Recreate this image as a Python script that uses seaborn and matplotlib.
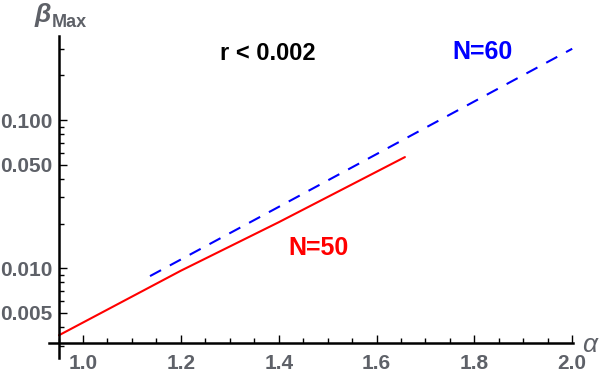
import numpy as np
import pandas as pd
import matplotlib
matplotlib.use("Agg")
import matplotlib.pyplot as plt
import matplotlib.ticker as mticker
import seaborn as sns

# ---- data ----
alpha_n50 = [0.951, 1.2, 1.4, 1.658]
beta_n50 = [0.00352, 0.0096, 0.0204, 0.0562]

alpha_n60 = [1.137, 1.4, 1.7, 2.0]
beta_n60 = [0.00883, 0.0259, 0.0887, 0.303]

x_major = [1.0, 1.2, 1.4, 1.6, 1.8, 2.0]
x_labels = ["1.0", "1.2", "1.4", "1.6", "1.8", "2.0"]
y_major = [0.005, 0.01, 0.05, 0.1]
y_labels = ["0.005", "0.010", "0.050", "0.100"]

sns.set_style("white")
plt.rcParams["font.family"] = ["Liberation Sans", "DejaVu Sans"]

GRAY = "#5e6168"
RED = "#ff0000"
BLUE = "#0000ff"

fig = plt.figure(figsize=(6, 3.75), dpi=100)
ax = fig.add_axes([49 / 600, 1 - 358 / 375, (572 - 49) / 600 + 0.002, (358 - 36) / 375])

df50 = pd.DataFrame({"alpha": alpha_n50, "beta": beta_n50})
df60 = pd.DataFrame({"alpha": alpha_n60, "beta": beta_n60})

sns.lineplot(data=df50, x="alpha", y="beta", color=RED, linewidth=1.5, ax=ax)
sns.lineplot(data=df60, x="alpha", y="beta", color=BLUE, linewidth=1.5,
             linestyle=(0, (6, 4.8)), ax=ax)

ax.set_yscale("log")
ax.set_xlim(0.9305, 2.002)
ax.set_ylim(0.00247, 0.3695)

# axes crossing like Mathematica
for s in ["top", "right"]:
    ax.spines[s].set_visible(False)
ax.spines["left"].set_position(("data", 0.951))
ax.spines["bottom"].set_position(("data", 0.00311))
for s in ["left", "bottom"]:
    ax.spines[s].set_linewidth(1.8)
    ax.spines[s].set_color("black")

ax.xaxis.set_major_locator(mticker.FixedLocator(x_major))
ax.xaxis.set_major_formatter(mticker.FixedFormatter(x_labels))
ax.xaxis.set_minor_locator(mticker.MultipleLocator(0.05))
ax.yaxis.set_major_locator(mticker.FixedLocator(y_major))
ax.yaxis.set_major_formatter(mticker.FixedFormatter(y_labels))
ax.yaxis.set_minor_locator(mticker.LogLocator(base=10, subs=np.arange(2, 10)))
ax.yaxis.set_minor_formatter(mticker.NullFormatter())

ax.tick_params(which="both", direction="in", color="black", width=1.0,
               bottom=True, left=True)
ax.tick_params(which="major", length=6)
ax.tick_params(which="minor", length=3.5)
ax.tick_params(axis="x", which="major", pad=7.5, labelsize=15, labelcolor=GRAY)
ax.tick_params(axis="y", which="major", pad=5, labelsize=15, labelcolor=GRAY)
for lab in ax.get_xticklabels() + ax.get_yticklabels():
    lab.set_fontweight("bold")

ax.set_xlabel("")
ax.set_ylabel("")

# annotations
fig.text(268 / 600, 1 - 53 / 375, "r < 0.002", color="black", fontsize=17,
         fontweight="bold", ha="center", va="center")
fig.text(482 / 600, 1 - 52 / 375, "N=60", color=BLUE, fontsize=18,
         fontweight="bold", ha="center", va="center")
fig.text(319 / 600, 1 - 248 / 375, "N=50", color=RED, fontsize=18,
         fontweight="bold", ha="center", va="center")

# axis labels
fig.text(35 / 600, 1 - 22 / 375, "β", color=GRAY, fontsize=19, style="italic",
         fontweight="bold", ha="left", va="baseline")
fig.text(52 / 600, 1 - 27 / 375, "Max", color=GRAY, fontsize=13,
         fontweight="bold", ha="left", va="baseline")
fig.text(582 / 600, 1 - 352 / 375, "α", color=GRAY, fontsize=19, style="italic",
         ha="left", va="baseline")

fig.savefig("out.png", dpi=100)
